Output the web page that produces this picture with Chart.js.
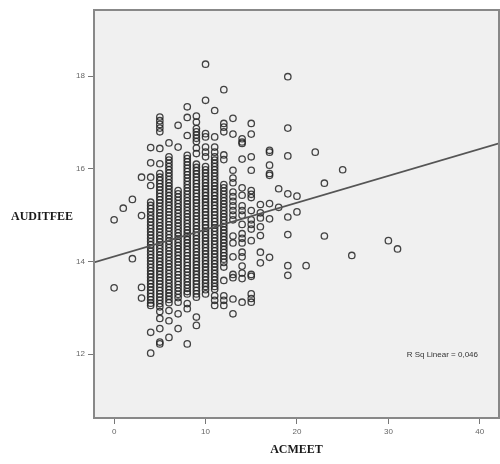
<!DOCTYPE html>
<html><head><meta charset="utf-8">
<script src="https://cdn.jsdelivr.net/npm/chart.js@4"></script>
<style>html,body{margin:0;padding:0;background:#fff}canvas{display:block}</style>
</head><body>
<canvas id="c" width="500" height="464"></canvas>
<script>
const xTicks = [0, 10, 20, 30, 40];
const yTicks = [12, 14, 16, 18];
const xRange = [-2.2, 42.1];
const yRange = [10.62, 19.43];
const xTitle = 'ACMEET';
const yTitle = 'AUDITFEE';
const rSquaredLabel = 'R Sq Linear = 0,046';
const rSquaredAt = [35.9, 11.98];
const fitLineX = [-2.2, 42.1];
const fitLineY = [13.98, 16.55];

const acmeetLevels = [0, 1, 2, 3, 4, 5, 6, 7, 8, 9, 10, 11, 12, 13, 14, 15, 16, 17, 18, 19, 20, 21, 22, 23, 25, 26, 30, 31];
const auditfeeColumns = [
  [14.90, 13.43],
  [15.15],
  [15.34, 14.06],
  [15.82, 14.99, 13.44, 13.21],
  [16.46, 16.13, 15.82, 15.64, 15.28, 15.21, 15.14, 15.07, 14.99, 14.92, 14.85, 14.78, 14.71, 14.64, 14.57, 14.50, 14.43, 14.36, 14.29, 14.22, 14.15, 14.08, 14.01, 13.94, 13.87, 13.80, 13.73, 13.66, 13.59, 13.52, 13.45, 13.38, 13.31, 13.24, 13.17, 13.10, 13.05, 12.47, 12.02],
  [17.12, 17.04, 16.96, 16.88, 16.80, 16.44, 16.11, 15.90, 15.82, 15.75, 15.68, 15.61, 15.54, 15.47, 15.40, 15.33, 15.26, 15.19, 15.12, 15.05, 14.98, 14.91, 14.84, 14.77, 14.70, 14.63, 14.56, 14.49, 14.42, 14.35, 14.28, 14.21, 14.14, 14.07, 14.00, 13.93, 13.86, 13.79, 13.72, 13.65, 13.58, 13.51, 13.44, 13.37, 13.30, 13.23, 13.16, 13.09, 13.02, 12.92, 12.77, 12.55, 12.26, 12.22],
  [16.56, 16.26, 16.19, 16.12, 16.05, 15.98, 15.91, 15.84, 15.77, 15.70, 15.63, 15.56, 15.49, 15.42, 15.35, 15.28, 15.21, 15.14, 15.07, 15.00, 14.93, 14.86, 14.79, 14.72, 14.65, 14.58, 14.51, 14.44, 14.37, 14.30, 14.23, 14.16, 14.09, 14.02, 13.95, 13.88, 13.81, 13.74, 13.67, 13.60, 13.53, 13.46, 13.39, 13.32, 13.25, 13.18, 13.11, 12.94, 12.72, 12.36],
  [16.94, 16.47, 15.53, 15.46, 15.39, 15.32, 15.25, 15.18, 15.11, 15.04, 14.97, 14.90, 14.83, 14.76, 14.69, 14.62, 14.55, 14.48, 14.41, 14.34, 14.27, 14.20, 14.13, 14.06, 13.99, 13.92, 13.85, 13.78, 13.71, 13.64, 13.57, 13.50, 13.43, 13.36, 13.29, 13.22, 13.12, 12.87, 12.55],
  [17.34, 17.11, 16.72, 16.29, 16.22, 16.15, 16.08, 16.01, 15.94, 15.87, 15.80, 15.73, 15.66, 15.59, 15.52, 15.45, 15.38, 15.31, 15.24, 15.17, 15.10, 15.03, 14.96, 14.89, 14.82, 14.75, 14.68, 14.61, 14.54, 14.47, 14.40, 14.33, 14.26, 14.19, 14.12, 14.05, 13.98, 13.91, 13.84, 13.77, 13.70, 13.63, 13.56, 13.49, 13.42, 13.35, 13.30, 13.09, 12.98, 12.22],
  [17.14, 17.01, 16.87, 16.80, 16.73, 16.66, 16.59, 16.45, 16.33, 16.10, 16.03, 15.96, 15.89, 15.82, 15.75, 15.68, 15.61, 15.54, 15.47, 15.40, 15.33, 15.26, 15.19, 15.12, 15.05, 14.98, 14.91, 14.84, 14.77, 14.70, 14.63, 14.56, 14.49, 14.42, 14.35, 14.28, 14.21, 14.14, 14.07, 14.00, 13.93, 13.86, 13.79, 13.72, 13.65, 13.58, 13.51, 13.44, 13.37, 13.30, 13.23, 12.80, 12.62],
  [18.26, 17.48, 16.76, 16.69, 16.47, 16.36, 16.26, 16.05, 15.98, 15.91, 15.84, 15.77, 15.70, 15.63, 15.56, 15.49, 15.42, 15.35, 15.28, 15.21, 15.14, 15.07, 15.00, 14.93, 14.86, 14.79, 14.72, 14.65, 14.58, 14.51, 14.44, 14.37, 14.30, 14.23, 14.16, 14.09, 14.02, 13.95, 13.88, 13.81, 13.74, 13.67, 13.60, 13.53, 13.46, 13.39, 13.30],
  [17.26, 16.69, 16.47, 16.36, 16.26, 16.19, 16.12, 16.05, 15.98, 15.91, 15.84, 15.77, 15.70, 15.63, 15.56, 15.49, 15.42, 15.35, 15.28, 15.21, 15.14, 15.07, 15.00, 14.93, 14.86, 14.79, 14.72, 14.65, 14.58, 14.51, 14.44, 14.37, 14.30, 14.23, 14.16, 14.09, 14.02, 13.95, 13.88, 13.81, 13.74, 13.67, 13.60, 13.53, 13.46, 13.40, 13.26, 13.16, 13.05],
  [17.71, 16.98, 16.90, 16.80, 16.30, 16.20, 15.66, 15.59, 15.52, 15.45, 15.38, 15.31, 15.24, 15.17, 15.10, 15.03, 14.96, 14.89, 14.82, 14.75, 14.68, 14.61, 14.54, 14.47, 14.40, 14.33, 14.26, 14.19, 14.12, 14.05, 13.98, 13.88, 13.59, 13.26, 13.16, 13.05],
  [17.09, 16.75, 15.97, 15.80, 15.70, 15.50, 15.40, 15.30, 15.20, 15.10, 15.00, 14.90, 14.55, 14.40, 14.10, 13.72, 13.65, 13.19, 12.87],
  [16.65, 16.58, 16.55, 16.21, 15.59, 15.43, 15.20, 15.10, 15.00, 14.80, 14.60, 14.50, 14.40, 14.20, 14.10, 13.90, 13.75, 13.63, 13.12],
  [16.98, 16.75, 16.26, 15.97, 15.53, 15.45, 15.38, 15.10, 14.90, 14.80, 14.70, 14.45, 13.72, 13.68, 13.30, 13.20, 13.12],
  [15.23, 15.05, 14.94, 14.75, 14.56, 14.20, 13.97],
  [16.40, 16.36, 16.08, 15.90, 15.86, 15.25, 14.92, 14.09],
  [15.57, 15.17],
  [17.99, 16.88, 16.28, 15.46, 14.96, 14.58, 13.91, 13.70],
  [15.41, 15.07],
  [13.91],
  [16.36],
  [15.69, 14.55],
  [15.98],
  [14.13],
  [14.45],
  [14.27]
];

const points = acmeetLevels.flatMap((m, i) => auditfeeColumns[i].map(v => ({x: m, y: v})));
const fitPoints = fitLineX.map((x, i) => ({x: x, y: fitLineY[i]}));

const framePlugin = {
  id: 'frame',
  beforeDatasetsDraw(chart) {
    const {ctx, chartArea: a} = chart;
    ctx.save();
    ctx.fillStyle = '#f0f0f0';
    ctx.fillRect(a.left, a.top, a.right - a.left, a.bottom - a.top);
    ctx.restore();
  },
  afterDraw(chart) {
    const {ctx, chartArea: a, scales} = chart;
    ctx.save();
    ctx.strokeStyle = '#888';
    ctx.lineWidth = 2;
    ctx.strokeRect(a.left, a.top, a.right - a.left, a.bottom - a.top);
    ctx.fillStyle = '#1a1a1a';
    ctx.font = 'bold 12px "Liberation Serif", serif';
    ctx.textAlign = 'center';
    ctx.textBaseline = 'middle';
    ctx.fillText(yTitle, 42, 217);
    ctx.fillText(xTitle, (a.left + a.right) / 2, 450);
    ctx.font = '8px "Liberation Sans", sans-serif';
    ctx.fillStyle = '#333';
    ctx.fillText(rSquaredLabel, scales.x.getPixelForValue(rSquaredAt[0]), scales.y.getPixelForValue(rSquaredAt[1]));
    ctx.restore();
  }
};

new Chart(document.getElementById('c'), {
  type: 'scatter',
  data: {
    datasets: [
      {
        data: points,
        order: 1,
        pointRadius: 3.2,
        pointBorderWidth: 1.3,
        borderColor: 'rgba(35,35,35,0.85)',
        backgroundColor: 'rgba(0,0,0,0)',
        pointBackgroundColor: 'rgba(0,0,0,0)'
      },
      {
        data: fitPoints,
        order: 0,
        showLine: true,
        pointRadius: 0,
        borderColor: '#555',
        borderWidth: 1.6
      }
    ]
  },
  options: {
    responsive: false,
    animation: false,
    layout: {padding: {top: 10, right: 1, bottom: 0, left: 0}, autoPadding: false},
    plugins: {legend: {display: false}, tooltip: {enabled: false}},
    scales: {
      x: {
        type: 'linear',
        min: xRange[0], max: xRange[1],
        afterBuildTicks: s => { s.ticks = xTicks.map(v => ({value: v})); },
        afterFit: s => { s.height = 46; },
        border: {display: false},
        grid: {drawOnChartArea: false, drawTicks: true, tickLength: 6, color: '#777', lineWidth: 1},
        ticks: {color: '#666', font: {size: 8, family: '"Liberation Sans", sans-serif'}, padding: 3, maxRotation: 0}
      },
      y: {
        type: 'linear',
        min: yRange[0], max: yRange[1],
        afterBuildTicks: s => { s.ticks = yTicks.map(v => ({value: v})); },
        afterFit: s => { s.width = 94; },
        border: {display: false},
        grid: {drawOnChartArea: false, drawTicks: true, tickLength: 6, color: '#777', lineWidth: 1},
        ticks: {color: '#666', font: {size: 8, family: '"Liberation Sans", sans-serif'}, padding: 3}
      }
    }
  },
  plugins: [framePlugin]
});
</script>
</body></html>
